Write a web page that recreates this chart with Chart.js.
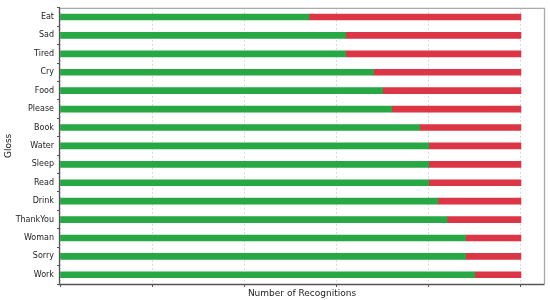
<!DOCTYPE html>
<html>
<head>
<meta charset="utf-8">
<script src="https://cdn.jsdelivr.net/npm/chart.js@4.4.0/dist/chart.umd.min.js"></script>
<style>
  html, body { margin: 0; padding: 0; background: #fff; }
  #wrap { width: 550px; height: 300px; }
</style>
</head>
<body>
<div id="wrap"><canvas id="myChart"></canvas></div>
<script>
const glosses = ['Eat', 'Sad', 'Tired', 'Cry', 'Food', 'Please', 'Book', 'Water', 'Sleep', 'Read', 'Drink', 'ThankYou', 'Woman', 'Sorry', 'Work']
const correct = [54, 62, 62, 68, 70, 72, 78, 80, 80, 80, 82, 84, 88, 88, 90]
const wrong = [46, 38, 38, 32, 30, 28, 22, 20, 20, 20, 18, 16, 12, 12, 10]
const xTicks = [0, 20, 40, 60, 80, 100]

// marco gris alrededor del area del grafico
const marco = {
    id: 'marco',
    afterDraw(chart) {
        const { ctx, chartArea: a } = chart
        ctx.save()
        ctx.strokeStyle = '#aaa'
        ctx.lineWidth = 1.3
        ctx.beginPath()
        ctx.moveTo(a.left, a.top + 0.5)
        ctx.lineTo(a.right + 0.5, a.top + 0.5)
        ctx.lineTo(a.right + 0.5, a.bottom)
        ctx.stroke()
        ctx.strokeStyle = '#555'
        ctx.beginPath()
        ctx.moveTo(a.left - 0.5, a.top)
        ctx.lineTo(a.left - 0.5, a.bottom + 0.5)
        ctx.lineTo(a.right + 0.5, a.bottom + 0.5)
        ctx.stroke()
        ctx.restore()
    }
}

const ctx = document.getElementById('myChart').getContext('2d')

new Chart(ctx, {
    type: 'bar',
    data: {
        labels: glosses,
        datasets: [{
            label: 'Correct',
            data: correct,
            backgroundColor: '#28a745',
            barThickness: 6
        }, {
            label: 'Wrong',
            data: wrong,
            backgroundColor: '#dc3545',
            barThickness: 6
        }]
    },
    options: {
        indexAxis: 'y',
        responsive: true,
        maintainAspectRatio: false,
        animation: false,
        layout: { padding: { left: 0, right: 6, top: 4, bottom: 0 } },
        plugins: {
            legend: { display: false },
            tooltip: { enabled: false }
        },
        scales: {
            x: {
                stacked: true,
                min: 0,
                max: 105,
                afterBuildTicks: s => { s.ticks = xTicks.map(v => ({ value: v })) },
                afterFit: s => { s.height = 16 },
                ticks: { display: false },
                grid: { color: '#d8d8d8', tickColor: '#555', tickLength: 3 },
                border: { display: false, dash: [2, 2] },
                title: {
                    display: true,
                    text: 'Number of Recognitions',
                    color: '#222',
                    font: { family: 'DejaVu Sans', size: 9 },
                    padding: { top: 0, bottom: 1 }
                }
            },
            y: {
                stacked: true,
                afterFit: s => { s.width = 60 },
                ticks: { color: '#222', font: { family: 'DejaVu Sans', size: 8 }, padding: 3 },
                grid: { display: true, drawOnChartArea: false, tickColor: '#555', tickLength: 3 },
                border: { display: false },
                title: {
                    display: true,
                    text: 'Gloss',
                    color: '#222',
                    font: { family: 'DejaVu Sans', size: 9 },
                    padding: { top: 3, bottom: 0 }
                }
            }
        }
    },
    plugins: [marco]
})
</script>
</body>
</html>
